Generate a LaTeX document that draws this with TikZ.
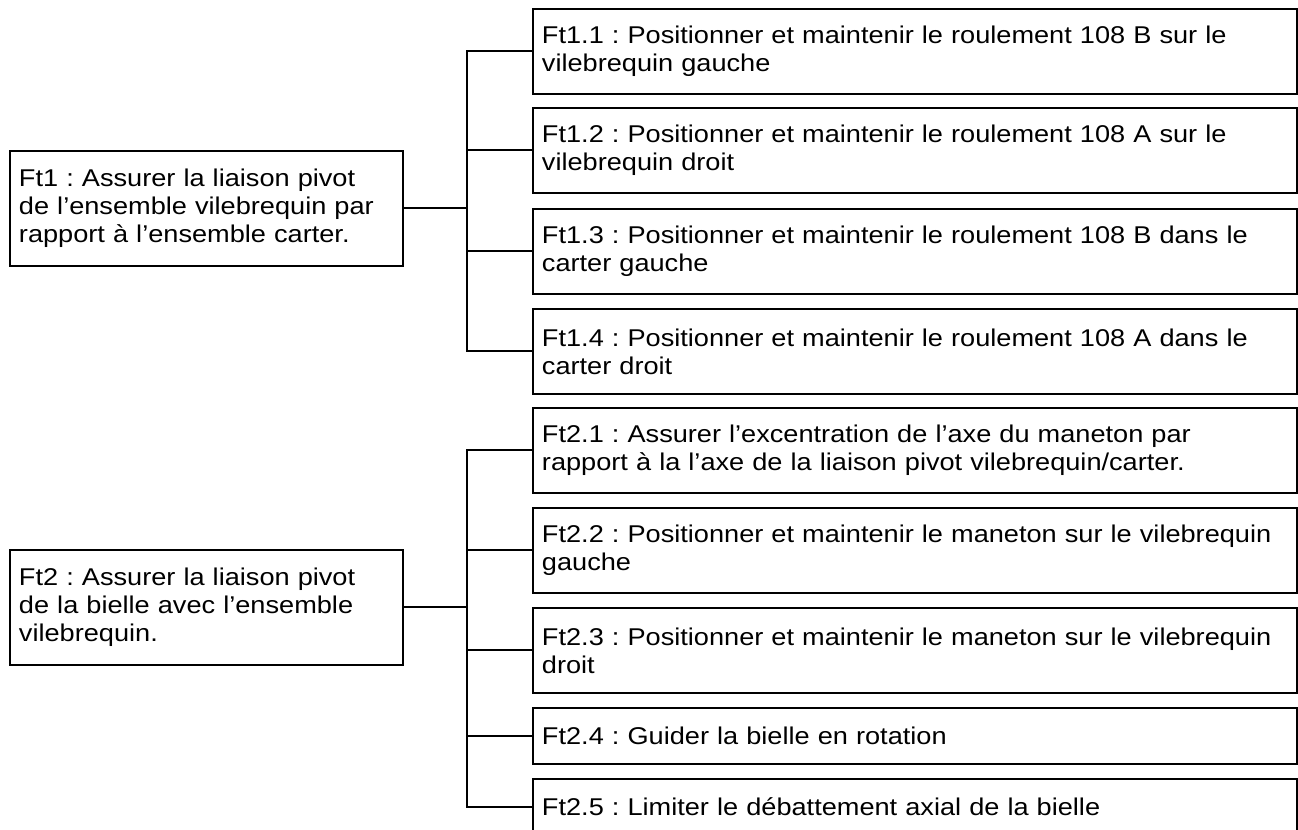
\documentclass[tikz,border=0pt]{standalone}
\usepackage{fontspec}
\setmainfont{Liberation Sans}[FakeStretch=1.12]
\frenchspacing
\begin{document}
\begin{tikzpicture}[x=0.02cm,y=-0.02cm,line width=1.1pt,
    fct/.style={draw,anchor=north west,align=left,inner xsep=0.18cm,inner ysep=0pt,
                font=\fontsize{13.8}{16}\selectfont},
    parent/.style={fct,text width=7.5cm,minimum height=2.3cm},
    child/.style={fct,text width=14.92cm,minimum height=1.7cm},
    short/.style={child,minimum height=1.12cm}]
    \useasboundingbox (0,0) rectangle (1298,830);
    \coordinate (bus) at (467,0);

    % Ft1 et ses fonctions
    \node[parent] (ft1)  at (9,150)   {Ft1 : Assurer la liaison pivot\\de l'ensemble vilebrequin par\\rapport à l'ensemble carter.};
    \node[child]  (ft11) at (532,8)   {Ft1.1 : Positionner et maintenir le roulement 108 B sur le\\vilebrequin gauche};
    \node[child]  (ft12) at (532,107) {Ft1.2 : Positionner et maintenir le roulement 108 A sur le\\vilebrequin droit};
    \node[child]  (ft13) at (532,208) {Ft1.3 : Positionner et maintenir le roulement 108 B dans le\\carter gauche};
    \node[child]  (ft14) at (532,308) {Ft1.4 : Positionner et maintenir le roulement 108 A dans le\\carter droit};

    \draw (ft1.east) -- (ft1.east -| bus);
    \draw (ft11.west) -- (ft11.west -| bus) -- (ft14.west -| bus) -- (ft14.west);
    \draw (ft12.west) -- (ft12.west -| bus);
    \draw (ft13.west) -- (ft13.west -| bus);

    % Ft2 et ses fonctions
    \node[parent] (ft2)  at (9,549)   {Ft2 : Assurer la liaison pivot\\de la bielle avec l'ensemble\\vilebrequin.};
    \node[child]  (ft21) at (532,407) {Ft2.1 : Assurer l'excentration de l'axe du maneton par\\rapport à la l'axe de la liaison pivot vilebrequin/carter.};
    \node[child]  (ft22) at (532,507) {Ft2.2 : Positionner et maintenir le maneton sur le vilebrequin\\gauche};
    \node[child]  (ft23) at (532,607) {Ft2.3 : Positionner et maintenir le maneton sur le vilebrequin\\droit};
    \node[short]  (ft24) at (532,707) {Ft2.4 : Guider la bielle en rotation};
    \node[short]  (ft25) at (532,778) {Ft2.5 : Limiter le débattement axial de la bielle};

    \draw (ft2.east) -- (ft2.east -| bus);
    \draw (ft21.west) -- (ft21.west -| bus) -- (ft25.west -| bus) -- (ft25.west);
    \draw (ft22.west) -- (ft22.west -| bus);
    \draw (ft23.west) -- (ft23.west -| bus);
    \draw (ft24.west) -- (ft24.west -| bus);
\end{tikzpicture}
\end{document}
